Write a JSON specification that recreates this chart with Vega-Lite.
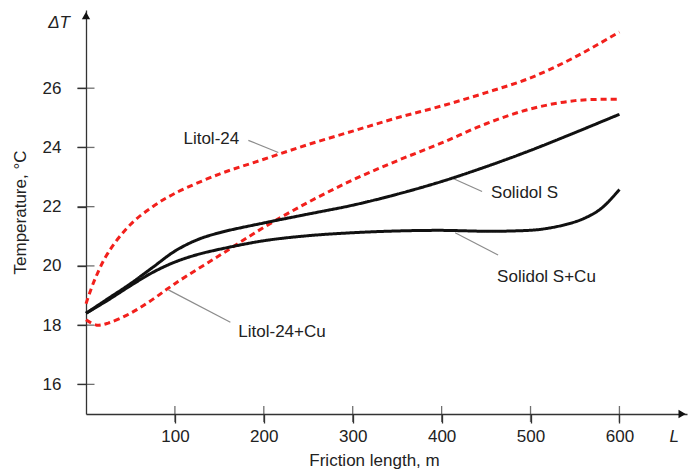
{
  "$schema": "https://vega.github.io/schema/vega-lite/v6.json",
  "width": 601,
  "height": 404,
  "autosize": {"type": "none"},
  "padding": {"left": 86, "top": 10, "right": 2, "bottom": 58},
  "background": "white",
  "config": {"view": {"stroke": null}, "font": "Liberation Sans"},
  "datasets": {
    "curves": [
      {"s": "Litol-24", "x": 0, "y": 18.72}, {"s": "Litol-24", "x": 10, "y": 19.55}, {"s": "Litol-24", "x": 25, "y": 20.45},
      {"s": "Litol-24", "x": 50, "y": 21.4}, {"s": "Litol-24", "x": 75, "y": 22.0}, {"s": "Litol-24", "x": 100, "y": 22.45},
      {"s": "Litol-24", "x": 150, "y": 23.1}, {"s": "Litol-24", "x": 200, "y": 23.6}, {"s": "Litol-24", "x": 250, "y": 24.1},
      {"s": "Litol-24", "x": 300, "y": 24.55}, {"s": "Litol-24", "x": 350, "y": 25.0}, {"s": "Litol-24", "x": 400, "y": 25.4},
      {"s": "Litol-24", "x": 450, "y": 25.85}, {"s": "Litol-24", "x": 500, "y": 26.35}, {"s": "Litol-24", "x": 550, "y": 27.05},
      {"s": "Litol-24", "x": 600, "y": 27.9},
      {"s": "Litol-24+Cu", "x": 0, "y": 18.18}, {"s": "Litol-24+Cu", "x": 12, "y": 18.0}, {"s": "Litol-24+Cu", "x": 25, "y": 18.07},
      {"s": "Litol-24+Cu", "x": 50, "y": 18.4}, {"s": "Litol-24+Cu", "x": 75, "y": 18.87}, {"s": "Litol-24+Cu", "x": 100, "y": 19.4},
      {"s": "Litol-24+Cu", "x": 150, "y": 20.35}, {"s": "Litol-24+Cu", "x": 200, "y": 21.3}, {"s": "Litol-24+Cu", "x": 250, "y": 22.15},
      {"s": "Litol-24+Cu", "x": 300, "y": 22.9}, {"s": "Litol-24+Cu", "x": 350, "y": 23.55}, {"s": "Litol-24+Cu", "x": 400, "y": 24.15},
      {"s": "Litol-24+Cu", "x": 450, "y": 24.8}, {"s": "Litol-24+Cu", "x": 500, "y": 25.3}, {"s": "Litol-24+Cu", "x": 550, "y": 25.58},
      {"s": "Litol-24+Cu", "x": 600, "y": 25.63},
      {"s": "Solidol S", "x": 0, "y": 18.4}, {"s": "Solidol S", "x": 25, "y": 18.9}, {"s": "Solidol S", "x": 50, "y": 19.4},
      {"s": "Solidol S", "x": 75, "y": 19.95}, {"s": "Solidol S", "x": 100, "y": 20.5}, {"s": "Solidol S", "x": 125, "y": 20.88},
      {"s": "Solidol S", "x": 150, "y": 21.12}, {"s": "Solidol S", "x": 200, "y": 21.45}, {"s": "Solidol S", "x": 250, "y": 21.75},
      {"s": "Solidol S", "x": 300, "y": 22.05}, {"s": "Solidol S", "x": 350, "y": 22.42}, {"s": "Solidol S", "x": 400, "y": 22.85},
      {"s": "Solidol S", "x": 450, "y": 23.35}, {"s": "Solidol S", "x": 500, "y": 23.9}, {"s": "Solidol S", "x": 550, "y": 24.5},
      {"s": "Solidol S", "x": 600, "y": 25.12},
      {"s": "Solidol S+Cu", "x": 0, "y": 18.4}, {"s": "Solidol S+Cu", "x": 25, "y": 18.85}, {"s": "Solidol S+Cu", "x": 50, "y": 19.33},
      {"s": "Solidol S+Cu", "x": 75, "y": 19.78}, {"s": "Solidol S+Cu", "x": 100, "y": 20.13}, {"s": "Solidol S+Cu", "x": 125, "y": 20.38},
      {"s": "Solidol S+Cu", "x": 150, "y": 20.56}, {"s": "Solidol S+Cu", "x": 200, "y": 20.85}, {"s": "Solidol S+Cu", "x": 250, "y": 21.02},
      {"s": "Solidol S+Cu", "x": 300, "y": 21.12}, {"s": "Solidol S+Cu", "x": 350, "y": 21.18}, {"s": "Solidol S+Cu", "x": 400, "y": 21.2},
      {"s": "Solidol S+Cu", "x": 450, "y": 21.17}, {"s": "Solidol S+Cu", "x": 480, "y": 21.18}, {"s": "Solidol S+Cu", "x": 510, "y": 21.23},
      {"s": "Solidol S+Cu", "x": 540, "y": 21.4}, {"s": "Solidol S+Cu", "x": 560, "y": 21.6}, {"s": "Solidol S+Cu", "x": 580, "y": 21.95},
      {"s": "Solidol S+Cu", "x": 600, "y": 22.58}
    ],
    "labels": [
      {"label": "Litol-24", "x": 109.6, "y": 24.27},
      {"label": "Solidol S", "x": 455.6, "y": 22.47},
      {"label": "Solidol S+Cu", "x": 462.4, "y": 19.63},
      {"label": "Litol-24+Cu", "x": 171.3, "y": 17.76}
    ],
    "leaders": [
      {"x": 182.6, "y": 24.24, "x2": 216.3, "y2": 23.83},
      {"x": 412.9, "y": 22.95, "x2": 445.5, "y2": 22.51},
      {"x": 415.2, "y": 21.12, "x2": 463.5, "y2": 20.37},
      {"x": 92.7, "y": 19.19, "x2": 162.4, "y2": 18.1}
    ],
    "xticks": [{"v": 100}, {"v": 200}, {"v": 300}, {"v": 400}, {"v": 500}, {"v": 600}],
    "yticks": [{"v": 16}, {"v": 18}, {"v": 20}, {"v": 22}, {"v": 24}, {"v": 26}],
    "symbols": [
      {"name": "ΔT", "x": -18, "y": 28.2},
      {"name": "L", "x": 667, "y": 14.22}
    ],
    "arrows": [
      {"shape": "triangle-up", "x": 0, "y": 28.45},
      {"shape": "triangle-right", "x": 670.5, "y": 15}
    ]
  },
  "layer": [
    {
      "data": {"name": "xticks"},
      "mark": {"type": "tick", "orient": "vertical", "size": 16, "thickness": 1.3, "color": "#333"},
      "encoding": {
        "x": {"field": "v", "type": "quantitative", "scale": {"domain": [0, 676], "nice": false, "zero": false},
          "axis": {"values": [100, 200, 300, 400, 500, 600], "grid": false, "domainColor": "#333", "domainWidth": 1.3,
            "tickColor": "#333", "tickWidth": 1.3, "tickSize": 9, "labelFontSize": 17, "labelColor": "#222",
            "labelPadding": 5, "title": "Friction length, m", "titleFontSize": 17, "titleFontWeight": "normal",
            "titleColor": "#222", "titleX": 288, "titleY": 46, "titleAlign": "center", "titleBaseline": "middle"}},
        "y": {"datum": 15, "type": "quantitative", "scale": {"domain": [15, 28.64], "nice": false, "zero": false},
          "axis": {"values": [16, 18, 20, 22, 24, 26], "grid": false, "domainColor": "#333", "domainWidth": 1.3,
            "tickColor": "#333", "tickWidth": 1.3, "tickSize": 9, "labelFontSize": 17, "labelColor": "#222",
            "labelPadding": 16, "title": "Temperature, °C", "titleFontSize": 17, "titleFontWeight": "normal",
            "titleColor": "#222", "titleX": -66, "titleBaseline": "middle"}}
      }
    },
    {
      "data": {"name": "yticks"},
      "mark": {"type": "tick", "orient": "horizontal", "size": 17, "thickness": 1.3, "color": "#333"},
      "encoding": {
        "x": {"datum": 0, "type": "quantitative"},
        "y": {"field": "v", "type": "quantitative"}
      }
    },
    {
      "data": {"name": "arrows"},
      "mark": {"type": "point", "filled": true, "color": "#111", "opacity": 1, "size": 70},
      "encoding": {
        "x": {"field": "x", "type": "quantitative"},
        "y": {"field": "y", "type": "quantitative"},
        "shape": {"field": "shape", "type": "nominal", "scale": null}
      }
    },
    {
      "data": {"name": "leaders"},
      "mark": {"type": "rule", "color": "#8c8c8c", "strokeWidth": 1.2},
      "encoding": {
        "x": {"field": "x", "type": "quantitative"},
        "y": {"field": "y", "type": "quantitative"},
        "x2": {"field": "x2"},
        "y2": {"field": "y2"}
      }
    },
    {
      "data": {"name": "curves"},
      "mark": {"type": "line", "interpolate": "catmull-rom", "strokeWidth": 3},
      "encoding": {
        "x": {"field": "x", "type": "quantitative"},
        "y": {"field": "y", "type": "quantitative"},
        "color": {"field": "s", "type": "nominal", "legend": null,
          "scale": {"domain": ["Litol-24", "Litol-24+Cu", "Solidol S", "Solidol S+Cu"], "range": ["#f2201c", "#f2201c", "#111111", "#111111"]}},
        "strokeDash": {"field": "s", "type": "nominal", "legend": null,
          "scale": {"domain": ["Litol-24", "Litol-24+Cu", "Solidol S", "Solidol S+Cu"], "range": [[6, 4], [6, 4], [1, 0], [1, 0]]}}
      }
    },
    {
      "data": {"name": "labels"},
      "mark": {"type": "text", "align": "left", "baseline": "middle", "fontSize": 17, "color": "#222"},
      "encoding": {
        "x": {"field": "x", "type": "quantitative"},
        "y": {"field": "y", "type": "quantitative"},
        "text": {"field": "label"}
      }
    },
    {
      "data": {"name": "symbols"},
      "mark": {"type": "text", "align": "right", "baseline": "middle", "fontSize": 17, "fontStyle": "italic", "color": "#222"},
      "encoding": {
        "x": {"field": "x", "type": "quantitative"},
        "y": {"field": "y", "type": "quantitative"},
        "text": {"field": "name"},
        "align": {"condition": {"test": "datum.name === 'L'", "value": "left"}, "value": "right"}
      }
    }
  ]
}
